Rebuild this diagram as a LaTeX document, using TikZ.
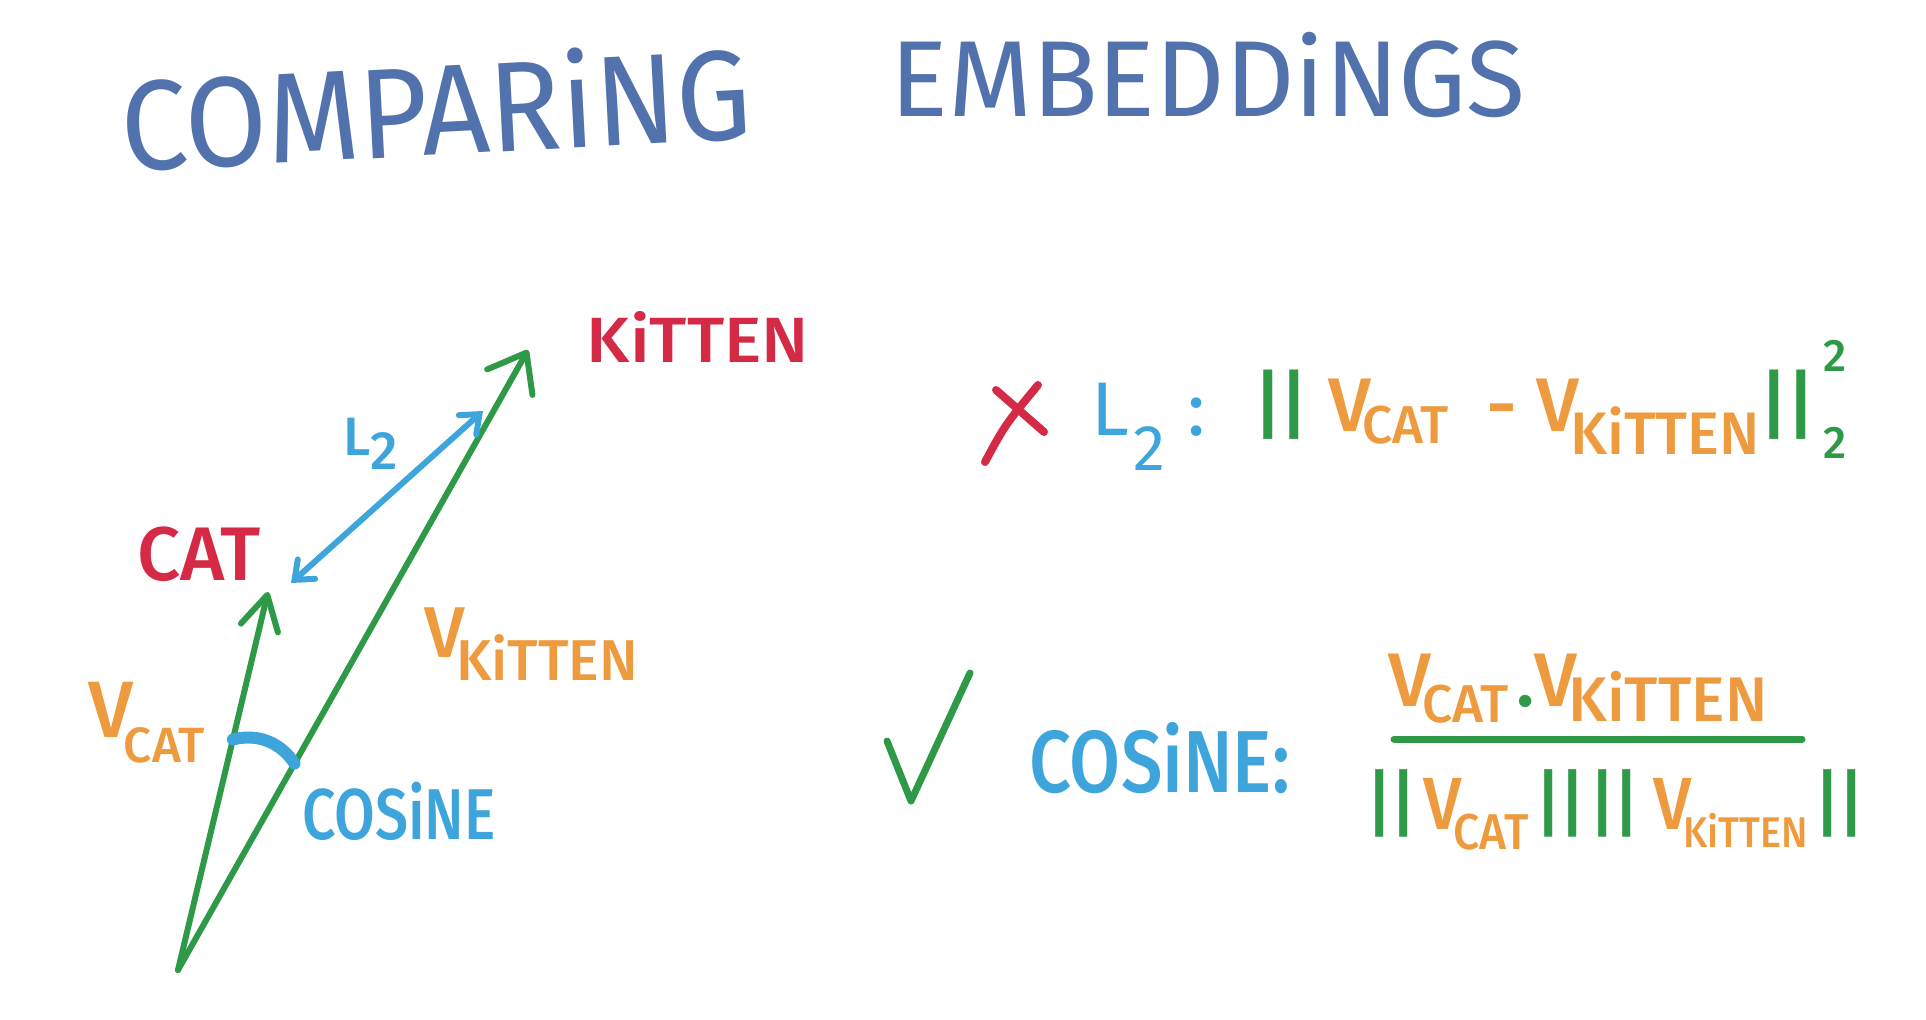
\documentclass[tikz,border=0pt]{standalone}
\usepackage{fontspec}
\setmainfont{Fira Sans}[BoldFont={Fira Sans Medium}]
\usepackage{graphicx}
\usetikzlibrary{arrows.meta,positioning,calc}
\definecolor{slate}{HTML}{5272AE}
\definecolor{crimson}{HTML}{D42A46}
\definecolor{leaf}{HTML}{2E9A48}
\definecolor{tangerine}{HTML}{EE9A3E}
\definecolor{sky}{HTML}{3DA5DB}

% V with a lowered, smaller name: [scale]{drop}{name}
\newcommand{\vsub}[3][0.7]{V\kern-0.12em\raisebox{#2}{\scalebox{#1}{#3}}}
\newcommand{\bars}{\textcolor{leaf}{|\kern-0.04em|}}

\tikzset{
  pen/.style={line cap=round,line join=round},
  vecarrow/.style={pen,draw=leaf,line width=3pt,-{Straight Barb[length=17pt,width=#1,line cap=round,line join=round]}},
  gaparrow/.style={pen,draw=sky,line width=3pt,{Straight Barb[length=8pt,width=13pt,line cap=round]}-{Straight Barb[length=8pt,width=13pt,line cap=round]}},
  word/.style={inner sep=0pt,font=\bfseries\fontsize{#1}{#1}\selectfont},
  narrow/.style={transform shape,xscale=#1},
}

\begin{document}
\begin{tikzpicture}[x=0.5pt,y=-0.5pt]
\useasboundingbox (0,0) rectangle (1926,1020);
% title
\node[word=64pt,text=slate,font=\mdseries\fontsize{64pt}{64pt}\selectfont,rotate=3,narrow=0.93] (ttl1) at (436,106) {COMPARiNG};
\node[word=54pt,text=slate,font=\mdseries\fontsize{54pt}{54pt}\selectfont] (ttl2) at (1208,75) {EMBEDDiNGS};

% the two vectors
\coordinate (org) at (178,970);
\coordinate (cattip) at (268,592);
\coordinate (kittip) at (528,350);
\draw[vecarrow=19pt] (org) -- (cattip);
\draw[vecarrow=26pt] (org) -- (kittip);
\node[word=38pt,text=crimson] (catw) at (199,554) {CAT};
\node[word=32pt,text=crimson,narrow=1.1] (kitw) at (698,337) {KiTTEN};
\node[word=40pt,text=tangerine,anchor=base west] (vcat) at (88,737) {\vsub[0.62]{-0.32em}{CAT}};
\node[word=36pt,text=tangerine,anchor=base west] (vkit) at (424,657) {\vsub[0.8]{-0.32em}{KiTTEN}};

% distance between tips
\coordinate (gapa) at (291,583);
\coordinate (gapb) at (483,411);
\draw[gaparrow] (gapa) -- (gapb);
\node[word=27pt,text=sky] (gapw) at (371,444) {L\raisebox{-0.25em}{2}};

% angle between the vectors
\coordinate (angA) at ($(org)!0.61!(cattip)$);
\coordinate (angB) at ($(org)!0.333!(kittip)$);
\draw[pen,sky,line width=6pt] (angA) to[bend left=35] (angB);
\node[word=36pt,text=sky,narrow=0.82] (cosw) at (399,811) {COSiNE};

% L2 row
\draw[pen,crimson,line width=4pt] (985,462) .. controls (1005,425) .. (1038,385);
\draw[pen,crimson,line width=4pt] (996,390) -- (1044,432);
\node[word=38pt,text=sky,anchor=base west,font=\mdseries\fontsize{38pt}{38pt}\selectfont] (ltwo) at (1091,436) {L\kern0.05em\raisebox{-0.45em}{\scalebox{0.85}{2}}\kern0.3em:};
\node[word=38pt,text=tangerine,anchor=base west] (norm) at (1253,432)
  {\bars\kern0.25em\vsub[0.7]{-0.15em}{CAT}\kern0.5em-\kern0.25em\vsub[0.79]{-0.3em}{KiTTEN}\bars\kern0.1em\rlap{\raisebox{0.8em}{\scalebox{0.6}{\textcolor{leaf}{2}}}}\raisebox{-0.35em}{\scalebox{0.6}{\textcolor{leaf}{2}}}};

% cosine row
\draw[pen,leaf,line width=3.5pt] (887,741) -- (911,801) -- (970,673);
\node[word=44pt,text=sky,anchor=base west,narrow=0.84] (cosr) at (1029,792) {COSiNE:};
\coordinate (fraca) at (1394,739);
\coordinate (fracb) at (1802,739);
\draw[pen,leaf,line width=3.5pt] (fraca) -- (fracb);
\node[word=38pt,text=tangerine,anchor=base west] (numr) at (1388,706)
  {\vsub{-0.22em}{CAT}\kern0.1em\textcolor{leaf}{.}\vsub[0.83]{-0.2em}{KiTTEN}};
\node[word=37pt,text=tangerine,anchor=base west,narrow=0.92] (denr) at (1366,829)
  {\bars\kern0.1em\vsub[0.68]{-0.28em}{CAT}\kern0.1em\bars\kern0.05em\bars\kern0.2em\vsub[0.58]{-0.25em}{KiTTEN}\kern0.1em\bars};
\end{tikzpicture}
\end{document}
